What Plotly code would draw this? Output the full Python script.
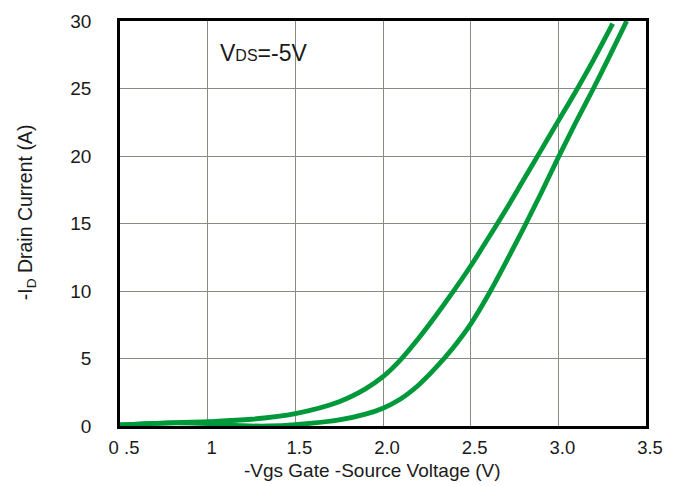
import plotly.graph_objects as go

# Transfer characteristics, VDS = -5 V (two measured sweeps)
vgs_a = [0.50, 0.75, 1.00, 1.25, 1.50, 1.75, 1.90, 2.00, 2.10, 2.20, 2.30, 2.40, 2.50,
         2.60, 2.70, 2.80, 2.90, 3.00, 3.10, 3.20, 3.31]
id_a = [0.08, 0.22, 0.32, 0.50, 0.92, 1.80, 2.75, 3.65, 4.90, 6.45, 8.15, 9.95, 11.85,
        13.90, 16.00, 18.20, 20.40, 22.60, 24.80, 27.10, 29.80]

vgs_b = [0.50, 0.75, 1.00, 1.20, 1.35, 1.50, 1.75, 1.90, 2.00, 2.10, 2.20, 2.30, 2.40,
         2.50, 2.60, 2.70, 2.80, 2.90, 3.00, 3.10, 3.20, 3.30, 3.39]
id_b = [0.08, 0.22, 0.18, 0.02, 0.00, 0.10, 0.45, 0.88, 1.32, 2.00, 3.00, 4.30, 5.80,
        7.55, 9.70, 12.10, 14.60, 17.20, 19.90, 22.50, 25.00, 27.60, 30.00]

x_ticks = [0.5, 1.0, 1.5, 2.0, 2.5, 3.0, 3.5]
x_ticktext = ["0 .5", "1", "1.5", "2.0", "2.5", "3.0", "3.5"]
y_ticks = [0, 5, 10, 15, 20, 25, 30]

GREEN = "#00993a"
GRID = "#878b82"
FONT = "Liberation Sans, Arial, sans-serif"
TXT = "#1a1a1a"

fig = go.Figure()
for xs, ys in ((vgs_a, id_a), (vgs_b, id_b)):
    fig.add_trace(go.Scatter(
        x=xs, y=ys, mode="lines",
        line=dict(color=GREEN, width=4.8, shape="spline", smoothing=1.0),
        showlegend=False, hoverinfo="skip",
    ))

fig.update_layout(
    width=680, height=486,
    margin=dict(l=120, r=34, t=11, b=60),
    paper_bgcolor="white", plot_bgcolor="white",
    font=dict(family=FONT, size=18.5, color=TXT),
    showlegend=False,
)

fig.update_xaxes(
    range=[0.5, 3.5], tickvals=x_ticks, ticktext=x_ticktext,
    showgrid=True, gridcolor=GRID, gridwidth=1.2,
    showline=True, linecolor="black", linewidth=2.5, mirror=True,
    ticks="", zeroline=False,
    tickfont=dict(size=18.5), ticklabelstandoff=3, ticklabelshift=4,
)
fig.update_yaxes(
    range=[0, 30], tickvals=y_ticks,
    showgrid=True, gridcolor=GRID, gridwidth=1.2,
    showline=True, linecolor="black", linewidth=2.5, mirror=True,
    ticks="", zeroline=False, ticklabeloverflow="allow",
    tickfont=dict(size=19), ticklabelstandoff=22,
)

# Axis titles
fig.add_annotation(
    text="-Vgs Gate -Source Voltage (V)",
    xref="paper", yref="paper", x=(372 - 120) / 526, y=-(473 - 427) / 415,
    xanchor="center", yanchor="middle", showarrow=False,
    font=dict(family=FONT, size=19, color=TXT),
)
fig.add_annotation(
    text="-I<sub>D</sub> Drain Current (A)",
    xref="paper", yref="paper", x=-(120 - 26) / 526, y=(427 - 208) / 415,
    xanchor="center", yanchor="middle", textangle=-90, showarrow=False,
    font=dict(family=FONT, size=19.5, color=TXT),
)

# Test condition label
fig.add_annotation(
    text="V<span style='font-size:16px'>DS</span>=-5V",
    x=1.06, y=27.6, xref="x", yref="y",
    xanchor="left", yanchor="middle", showarrow=False,
    font=dict(family=FONT, size=23, color=TXT),
)

fig.write_html("out.html")
